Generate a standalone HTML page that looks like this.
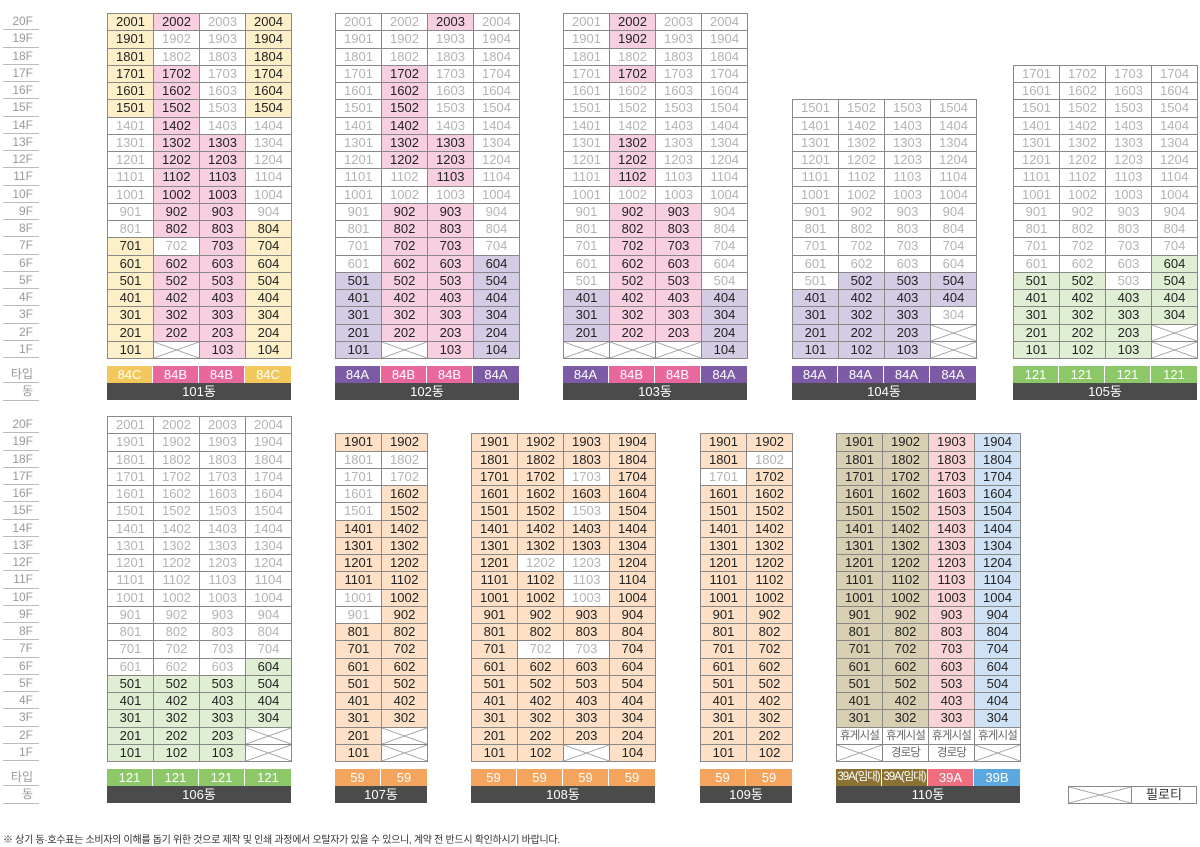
<!DOCTYPE html>
<html><head><meta charset="utf-8"><style>
*{box-sizing:border-box;margin:0;padding:0}
body{width:1200px;height:847px;background:#fff;position:relative;overflow:hidden;font-family:"Liberation Sans","Noto Sans CJK KR",sans-serif}
.f{position:absolute;left:3px;width:36px}
.f div{height:17.25px;border-bottom:1px solid #bbb;text-align:right;padding-right:6px;font-size:12px;line-height:17px;color:#999}
.b{position:absolute;display:grid;grid-auto-rows:17.25px;border-top:1px solid #888;border-left:1px solid #888}
.c4{grid-template-columns:repeat(4,46px)}
.c2{grid-template-columns:repeat(2,46px)}
.b i{font-style:normal;border-right:1px solid #888;border-bottom:1px solid #888;text-align:center;font-size:13px;line-height:16px;color:#b3b3b3;background:#fff}
.b i.y,.b i.p,.b i.u,.b i.g,.b i.o,.b i.t,.b i.r,.b i.l{color:#222}
.y{background:#fdefc8!important}.p{background:#f8cfe1!important}.u{background:#d4cbe5!important}.g{background:#e0efd3!important}.o{background:#fde0c6!important}.t{background:#d8cfb2!important}.r{background:#f9d3d6!important}.l{background:#cfe2f5!important}
.b i.h{color:#666;font-size:11.5px;letter-spacing:-.8px}
.x,.lx{background:linear-gradient(to top right,transparent calc(50% - .7px),#888 50%,transparent calc(50% + .7px)),linear-gradient(to bottom right,transparent calc(50% - .7px),#888 50%,transparent calc(50% + .7px)),#fff!important}
.tp{position:absolute;display:flex;height:17px}
.tp span{width:46px;color:#fff;font-size:13px;line-height:17px;text-align:center;border-right:1px solid #fff}
.tp span:last-child{border-right:none}
.dg{position:absolute;height:17px;background:#4b4b4b;color:#fff;font-size:13px;line-height:17px;text-align:center}
.C{background:#f2c75c}.B{background:#e8679c}.A{background:#7c5aa5}.G{background:#8cc867}.O{background:#f4a45d}.M{background:#8b7232;font-size:11.5px!important;letter-spacing:-1px}.R{background:#ee6e7d}.L{background:#5aa8df}
</style></head><body>

<div class="f" style="top:13px">
<div>20F</div><div>19F</div><div>18F</div><div>17F</div><div>16F</div><div>15F</div><div>14F</div><div>13F</div><div>12F</div><div>11F</div><div>10F</div><div>9F</div><div>8F</div><div>7F</div><div>6F</div><div>5F</div><div>4F</div><div>3F</div><div>2F</div><div>1F</div>
<div style="margin-top:8px">타입</div><div>동</div></div>
<div class="f" style="top:416px">
<div>20F</div><div>19F</div><div>18F</div><div>17F</div><div>16F</div><div>15F</div><div>14F</div><div>13F</div><div>12F</div><div>11F</div><div>10F</div><div>9F</div><div>8F</div><div>7F</div><div>6F</div><div>5F</div><div>4F</div><div>3F</div><div>2F</div><div>1F</div>
<div style="margin-top:8px">타입</div><div>동</div></div>

<!-- 101 -->
<div class="b c4" style="left:107px;top:13px">
<i class=y>2001</i><i class=p>2002</i><i>2003</i><i class=y>2004</i>
<i class=y>1901</i><i>1902</i><i>1903</i><i class=y>1904</i>
<i class=y>1801</i><i>1802</i><i>1803</i><i class=y>1804</i>
<i class=y>1701</i><i class=p>1702</i><i>1703</i><i class=y>1704</i>
<i class=y>1601</i><i class=p>1602</i><i>1603</i><i class=y>1604</i>
<i class=y>1501</i><i class=p>1502</i><i>1503</i><i class=y>1504</i>
<i>1401</i><i class=p>1402</i><i>1403</i><i>1404</i>
<i>1301</i><i class=p>1302</i><i class=p>1303</i><i>1304</i>
<i>1201</i><i class=p>1202</i><i class=p>1203</i><i>1204</i>
<i>1101</i><i class=p>1102</i><i class=p>1103</i><i>1104</i>
<i>1001</i><i class=p>1002</i><i class=p>1003</i><i>1004</i>
<i>901</i><i class=p>902</i><i class=p>903</i><i>904</i>
<i>801</i><i class=p>802</i><i class=p>803</i><i class=y>804</i>
<i class=y>701</i><i>702</i><i class=p>703</i><i class=y>704</i>
<i class=y>601</i><i class=p>602</i><i class=p>603</i><i class=y>604</i>
<i class=y>501</i><i class=p>502</i><i class=p>503</i><i class=y>504</i>
<i class=y>401</i><i class=p>402</i><i class=p>403</i><i class=y>404</i>
<i class=y>301</i><i class=p>302</i><i class=p>303</i><i class=y>304</i>
<i class=y>201</i><i class=p>202</i><i class=p>203</i><i class=y>204</i>
<i class=y>101</i><i class=x></i><i class=p>103</i><i class=y>104</i>
</div>
<div class="tp" style="left:107px;top:366px"><span class=C>84C</span><span class=B>84B</span><span class=B>84B</span><span class=C>84C</span></div>
<div class="dg" style="left:107px;top:383px;width:184px">101동</div>

<!-- 102 -->
<div class="b c4" style="left:335px;top:13px">
<i>2001</i><i>2002</i><i class=p>2003</i><i>2004</i>
<i>1901</i><i>1902</i><i>1903</i><i>1904</i>
<i>1801</i><i>1802</i><i>1803</i><i>1804</i>
<i>1701</i><i class=p>1702</i><i>1703</i><i>1704</i>
<i>1601</i><i class=p>1602</i><i>1603</i><i>1604</i>
<i>1501</i><i class=p>1502</i><i>1503</i><i>1504</i>
<i>1401</i><i class=p>1402</i><i>1403</i><i>1404</i>
<i>1301</i><i class=p>1302</i><i class=p>1303</i><i>1304</i>
<i>1201</i><i class=p>1202</i><i class=p>1203</i><i>1204</i>
<i>1101</i><i>1102</i><i class=p>1103</i><i>1104</i>
<i>1001</i><i>1002</i><i>1003</i><i>1004</i>
<i>901</i><i class=p>902</i><i class=p>903</i><i>904</i>
<i>801</i><i class=p>802</i><i class=p>803</i><i>804</i>
<i>701</i><i class=p>702</i><i class=p>703</i><i>704</i>
<i>601</i><i class=p>602</i><i class=p>603</i><i class=u>604</i>
<i class=u>501</i><i class=p>502</i><i class=p>503</i><i class=u>504</i>
<i class=u>401</i><i class=p>402</i><i class=p>403</i><i class=u>404</i>
<i class=u>301</i><i class=p>302</i><i class=p>303</i><i class=u>304</i>
<i class=u>201</i><i class=p>202</i><i class=p>203</i><i class=u>204</i>
<i class=u>101</i><i class=x></i><i class=p>103</i><i class=u>104</i>
</div>
<div class="tp" style="left:335px;top:366px"><span class=A>84A</span><span class=B>84B</span><span class=B>84B</span><span class=A>84A</span></div>
<div class="dg" style="left:335px;top:383px;width:184px">102동</div>

<!-- 103 -->
<div class="b c4" style="left:563px;top:13px">
<i>2001</i><i class=p>2002</i><i>2003</i><i>2004</i>
<i>1901</i><i class=p>1902</i><i>1903</i><i>1904</i>
<i>1801</i><i>1802</i><i>1803</i><i>1804</i>
<i>1701</i><i class=p>1702</i><i>1703</i><i>1704</i>
<i>1601</i><i>1602</i><i>1603</i><i>1604</i>
<i>1501</i><i>1502</i><i>1503</i><i>1504</i>
<i>1401</i><i>1402</i><i>1403</i><i>1404</i>
<i>1301</i><i class=p>1302</i><i>1303</i><i>1304</i>
<i>1201</i><i class=p>1202</i><i>1203</i><i>1204</i>
<i>1101</i><i class=p>1102</i><i>1103</i><i>1104</i>
<i>1001</i><i>1002</i><i>1003</i><i>1004</i>
<i>901</i><i class=p>902</i><i class=p>903</i><i>904</i>
<i>801</i><i class=p>802</i><i class=p>803</i><i>804</i>
<i>701</i><i class=p>702</i><i class=p>703</i><i>704</i>
<i>601</i><i class=p>602</i><i class=p>603</i><i>604</i>
<i>501</i><i class=p>502</i><i class=p>503</i><i>504</i>
<i class=u>401</i><i class=p>402</i><i class=p>403</i><i class=u>404</i>
<i class=u>301</i><i class=p>302</i><i class=p>303</i><i class=u>304</i>
<i class=u>201</i><i class=p>202</i><i class=p>203</i><i class=u>204</i>
<i class=x></i><i class=x></i><i class=x></i><i class=u>104</i>
</div>
<div class="tp" style="left:563px;top:366px"><span class=A>84A</span><span class=B>84B</span><span class=B>84B</span><span class=A>84A</span></div>
<div class="dg" style="left:563px;top:383px;width:184px">103동</div>

<!-- 104 -->
<div class="b c4" style="left:792px;top:99.25px">
<i>1501</i><i>1502</i><i>1503</i><i>1504</i>
<i>1401</i><i>1402</i><i>1403</i><i>1404</i>
<i>1301</i><i>1302</i><i>1303</i><i>1304</i>
<i>1201</i><i>1202</i><i>1203</i><i>1204</i>
<i>1101</i><i>1102</i><i>1103</i><i>1104</i>
<i>1001</i><i>1002</i><i>1003</i><i>1004</i>
<i>901</i><i>902</i><i>903</i><i>904</i>
<i>801</i><i>802</i><i>803</i><i>804</i>
<i>701</i><i>702</i><i>703</i><i>704</i>
<i>601</i><i>602</i><i>603</i><i>604</i>
<i>501</i><i class=u>502</i><i class=u>503</i><i class=u>504</i>
<i class=u>401</i><i class=u>402</i><i class=u>403</i><i class=u>404</i>
<i class=u>301</i><i class=u>302</i><i class=u>303</i><i>304</i>
<i class=u>201</i><i class=u>202</i><i class=u>203</i><i class=x></i>
<i class=u>101</i><i class=u>102</i><i class=u>103</i><i class=x></i>
</div>
<div class="tp" style="left:792px;top:366px"><span class=A>84A</span><span class=A>84A</span><span class=A>84A</span><span class=A>84A</span></div>
<div class="dg" style="left:792px;top:383px;width:184px">104동</div>

<!-- 105 -->
<div class="b c4" style="left:1013px;top:64.75px">
<i>1701</i><i>1702</i><i>1703</i><i>1704</i>
<i>1601</i><i>1602</i><i>1603</i><i>1604</i>
<i>1501</i><i>1502</i><i>1503</i><i>1504</i>
<i>1401</i><i>1402</i><i>1403</i><i>1404</i>
<i>1301</i><i>1302</i><i>1303</i><i>1304</i>
<i>1201</i><i>1202</i><i>1203</i><i>1204</i>
<i>1101</i><i>1102</i><i>1103</i><i>1104</i>
<i>1001</i><i>1002</i><i>1003</i><i>1004</i>
<i>901</i><i>902</i><i>903</i><i>904</i>
<i>801</i><i>802</i><i>803</i><i>804</i>
<i>701</i><i>702</i><i>703</i><i>704</i>
<i>601</i><i>602</i><i>603</i><i class=g>604</i>
<i class=g>501</i><i class=g>502</i><i>503</i><i class=g>504</i>
<i class=g>401</i><i class=g>402</i><i class=g>403</i><i class=g>404</i>
<i class=g>301</i><i class=g>302</i><i class=g>303</i><i class=g>304</i>
<i class=g>201</i><i class=g>202</i><i class=g>203</i><i class=x></i>
<i class=g>101</i><i class=g>102</i><i class=g>103</i><i class=x></i>
</div>
<div class="tp" style="left:1013px;top:366px"><span class=G>121</span><span class=G>121</span><span class=G>121</span><span class=G>121</span></div>
<div class="dg" style="left:1013px;top:383px;width:184px">105동</div>

<!-- 106 -->
<div class="b c4" style="left:107px;top:416px">
<i>2001</i><i>2002</i><i>2003</i><i>2004</i>
<i>1901</i><i>1902</i><i>1903</i><i>1904</i>
<i>1801</i><i>1802</i><i>1803</i><i>1804</i>
<i>1701</i><i>1702</i><i>1703</i><i>1704</i>
<i>1601</i><i>1602</i><i>1603</i><i>1604</i>
<i>1501</i><i>1502</i><i>1503</i><i>1504</i>
<i>1401</i><i>1402</i><i>1403</i><i>1404</i>
<i>1301</i><i>1302</i><i>1303</i><i>1304</i>
<i>1201</i><i>1202</i><i>1203</i><i>1204</i>
<i>1101</i><i>1102</i><i>1103</i><i>1104</i>
<i>1001</i><i>1002</i><i>1003</i><i>1004</i>
<i>901</i><i>902</i><i>903</i><i>904</i>
<i>801</i><i>802</i><i>803</i><i>804</i>
<i>701</i><i>702</i><i>703</i><i>704</i>
<i>601</i><i>602</i><i>603</i><i class=g>604</i>
<i class=g>501</i><i class=g>502</i><i class=g>503</i><i class=g>504</i>
<i class=g>401</i><i class=g>402</i><i class=g>403</i><i class=g>404</i>
<i class=g>301</i><i class=g>302</i><i class=g>303</i><i class=g>304</i>
<i class=g>201</i><i class=g>202</i><i class=g>203</i><i class=x></i>
<i class=g>101</i><i class=g>102</i><i class=g>103</i><i class=x></i>
</div>
<div class="tp" style="left:107px;top:769px"><span class=G>121</span><span class=G>121</span><span class=G>121</span><span class=G>121</span></div>
<div class="dg" style="left:107px;top:786px;width:184px">106동</div>

<!-- 107 -->
<div class="b c2" style="left:335px;top:433.25px">
<i class=o>1901</i><i class=o>1902</i>
<i>1801</i><i>1802</i>
<i>1701</i><i>1702</i>
<i>1601</i><i class=o>1602</i>
<i>1501</i><i class=o>1502</i>
<i class=o>1401</i><i class=o>1402</i>
<i class=o>1301</i><i class=o>1302</i>
<i class=o>1201</i><i class=o>1202</i>
<i class=o>1101</i><i class=o>1102</i>
<i>1001</i><i class=o>1002</i>
<i>901</i><i class=o>902</i>
<i class=o>801</i><i class=o>802</i>
<i class=o>701</i><i class=o>702</i>
<i class=o>601</i><i class=o>602</i>
<i class=o>501</i><i class=o>502</i>
<i class=o>401</i><i class=o>402</i>
<i class=o>301</i><i class=o>302</i>
<i class=o>201</i><i class=x></i>
<i class=o>101</i><i class=x></i>
</div>
<div class="tp" style="left:335px;top:769px"><span class=O>59</span><span class=O>59</span></div>
<div class="dg" style="left:335px;top:786px;width:92px">107동</div>

<!-- 108 -->
<div class="b c4" style="left:471px;top:433.25px">
<i class=o>1901</i><i class=o>1902</i><i class=o>1903</i><i class=o>1904</i>
<i class=o>1801</i><i class=o>1802</i><i class=o>1803</i><i class=o>1804</i>
<i class=o>1701</i><i class=o>1702</i><i>1703</i><i class=o>1704</i>
<i class=o>1601</i><i class=o>1602</i><i class=o>1603</i><i class=o>1604</i>
<i class=o>1501</i><i class=o>1502</i><i>1503</i><i class=o>1504</i>
<i class=o>1401</i><i class=o>1402</i><i class=o>1403</i><i class=o>1404</i>
<i class=o>1301</i><i class=o>1302</i><i class=o>1303</i><i class=o>1304</i>
<i class=o>1201</i><i>1202</i><i>1203</i><i class=o>1204</i>
<i class=o>1101</i><i class=o>1102</i><i>1103</i><i class=o>1104</i>
<i class=o>1001</i><i class=o>1002</i><i>1003</i><i class=o>1004</i>
<i class=o>901</i><i class=o>902</i><i class=o>903</i><i class=o>904</i>
<i class=o>801</i><i class=o>802</i><i class=o>803</i><i class=o>804</i>
<i class=o>701</i><i>702</i><i>703</i><i class=o>704</i>
<i class=o>601</i><i class=o>602</i><i class=o>603</i><i class=o>604</i>
<i class=o>501</i><i class=o>502</i><i class=o>503</i><i class=o>504</i>
<i class=o>401</i><i class=o>402</i><i class=o>403</i><i class=o>404</i>
<i class=o>301</i><i class=o>302</i><i class=o>303</i><i class=o>304</i>
<i class=o>201</i><i class=o>202</i><i class=o>203</i><i class=o>204</i>
<i class=o>101</i><i class=o>102</i><i class=x></i><i class=o>104</i>
</div>
<div class="tp" style="left:471px;top:769px"><span class=O>59</span><span class=O>59</span><span class=O>59</span><span class=O>59</span></div>
<div class="dg" style="left:471px;top:786px;width:184px">108동</div>

<!-- 109 -->
<div class="b c2" style="left:700px;top:433.25px">
<i class=o>1901</i><i class=o>1902</i>
<i class=o>1801</i><i>1802</i>
<i>1701</i><i class=o>1702</i>
<i class=o>1601</i><i class=o>1602</i>
<i class=o>1501</i><i class=o>1502</i>
<i class=o>1401</i><i class=o>1402</i>
<i class=o>1301</i><i class=o>1302</i>
<i class=o>1201</i><i class=o>1202</i>
<i class=o>1101</i><i class=o>1102</i>
<i class=o>1001</i><i class=o>1002</i>
<i class=o>901</i><i class=o>902</i>
<i class=o>801</i><i class=o>802</i>
<i class=o>701</i><i class=o>702</i>
<i class=o>601</i><i class=o>602</i>
<i class=o>501</i><i class=o>502</i>
<i class=o>401</i><i class=o>402</i>
<i class=o>301</i><i class=o>302</i>
<i class=o>201</i><i class=o>202</i>
<i class=o>101</i><i class=o>102</i>
</div>
<div class="tp" style="left:700px;top:769px"><span class=O>59</span><span class=O>59</span></div>
<div class="dg" style="left:700px;top:786px;width:92px">109동</div>

<!-- 110 -->
<div class="b c4" style="left:836px;top:433.25px">
<i class=t>1901</i><i class=t>1902</i><i class=r>1903</i><i class=l>1904</i>
<i class=t>1801</i><i class=t>1802</i><i class=r>1803</i><i class=l>1804</i>
<i class=t>1701</i><i class=t>1702</i><i class=r>1703</i><i class=l>1704</i>
<i class=t>1601</i><i class=t>1602</i><i class=r>1603</i><i class=l>1604</i>
<i class=t>1501</i><i class=t>1502</i><i class=r>1503</i><i class=l>1504</i>
<i class=t>1401</i><i class=t>1402</i><i class=r>1403</i><i class=l>1404</i>
<i class=t>1301</i><i class=t>1302</i><i class=r>1303</i><i class=l>1304</i>
<i class=t>1201</i><i class=t>1202</i><i class=r>1203</i><i class=l>1204</i>
<i class=t>1101</i><i class=t>1102</i><i class=r>1103</i><i class=l>1104</i>
<i class=t>1001</i><i class=t>1002</i><i class=r>1003</i><i class=l>1004</i>
<i class=t>901</i><i class=t>902</i><i class=r>903</i><i class=l>904</i>
<i class=t>801</i><i class=t>802</i><i class=r>803</i><i class=l>804</i>
<i class=t>701</i><i class=t>702</i><i class=r>703</i><i class=l>704</i>
<i class=t>601</i><i class=t>602</i><i class=r>603</i><i class=l>604</i>
<i class=t>501</i><i class=t>502</i><i class=r>503</i><i class=l>504</i>
<i class=t>401</i><i class=t>402</i><i class=r>403</i><i class=l>404</i>
<i class=t>301</i><i class=t>302</i><i class=r>303</i><i class=l>304</i>
<i class=h>휴게시설</i><i class=h>휴게시설</i><i class=h>휴게시설</i><i class=h>휴게시설</i>
<i class=x></i><i class=h>경로당</i><i class=h>경로당</i><i class=x></i>
</div>
<div class="tp" style="left:836px;top:769px"><span class=M>39A(임대)</span><span class=M>39A(임대)</span><span class=R>39A</span><span class=L>39B</span></div>
<div class="dg" style="left:836px;top:786px;width:184px">110동</div>

<!-- legend -->
<div style="position:absolute;left:1068px;top:786px;width:129px;height:18px;border:1px solid #888;display:flex">
<div class="lx" style="width:63px;border-right:1px solid #888"></div>
<div style="flex:1;text-align:center;font-size:13px;line-height:16px;color:#333">필로티</div>
</div>

<div style="position:absolute;left:3px;top:831px;font-size:10px;color:#333;letter-spacing:-0.3px">※ 상기 동·호수표는 소비자의 이해를 돕기 위한 것으로 제작 및 인쇄 과정에서 오탈자가 있을 수 있으니, 계약 전 반드시 확인하시기 바랍니다.</div>
</body></html>
